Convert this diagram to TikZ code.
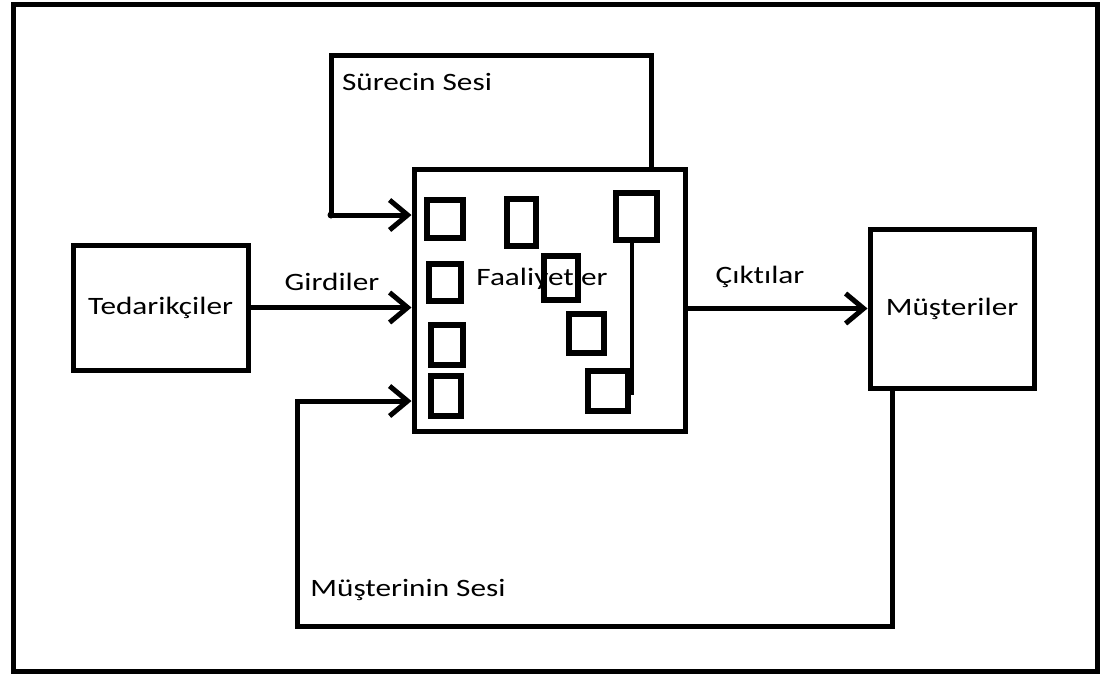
\documentclass[tikz,border=0pt]{standalone}
\usepackage{fontspec}
\setmainfont[FakeStretch=1.25, Ligatures=NoCommon]{Carlito}
\usetikzlibrary{arrows.meta}

\begin{document}
\begin{tikzpicture}[x=1pt, y=-1pt, line width=5pt,
        every node/.style={font=\fontsize{25}{29}\selectfont, inner sep=0pt},
        kutu/.style={draw, line width=5pt},
        kare/.style={draw, line width=5.5pt},
        okbas/.style={-{Straight Barb[length=18pt,width=30pt]}}]
        \useasboundingbox (0,0) rectangle (1101,675);
        % outer frame
        \draw (13,4) rectangle (1097,671);

        % main boxes
        \node[kutu, minimum width=175pt, minimum height=125pt] (tedarik) at (160.5,307.5) {Tedarik\c{c}iler};
        \node[kutu, minimum width=271pt, minimum height=262pt] (faal) at (549.5,300) {};
        \node[kutu, minimum width=164pt, minimum height=159pt] (musteri) at (952,308.5) {M\"u\c{s}teriler};
        \node (faaltxt) at (542,279) {Faaliyetler};

        % small activity boxes
        \foreach \i/\x/\y/\w/\h in {1/445/219/36/38, 2/521.5/222.5/29/47, 3/636.5/216.5/41/47,
                4/445/282.5/32/37, 5/561/278/34/44, 6/586.5/333.5/35/39,
                7/447/345/32/40, 8/446/396/30/40, 9/608/391/40/40}
            \node[kare, minimum width=\w pt, minimum height=\h pt] (k\i) at (\x,\y) {};
        \coordinate (kalt) at (632,395);
        \draw[line width=4pt] (k3.south -| kalt) -- (kalt);

        % labels
        \node (girdi) at (332,282) {Girdiler};
        \node (cikti) at (760,277) {\c{C}\i kt\i lar};
        \node (ssesi) at (417,82) {S\"urecin Sesi};
        \node (msesi) at (408,590) {M\"u\c{s}terinin Sesi};

        % loop corners
        \coordinate (s1) at (651,55);
        \coordinate (s2) at (331,55);
        \coordinate (s3) at (331,215);
        \coordinate (m1) at (892,626);
        \coordinate (m2) at (297,626);
        \coordinate (m3) at (297,401);

        \draw[okbas] (tedarik.east) -- (tedarik.east -| faal.west);
        \draw[okbas] (faal.east |- musteri.west) -- (musteri.west);
        \draw[okbas] (faal.north -| s1) -- (s1) -- (s2) -- (s3) -- (s3 -| faal.west);
        \fill (s3) circle (3.5pt);
        \draw[okbas] (musteri.south -| m1) -- (m1) -- (m2) -- (m3) -- (m3 -| faal.west);
    \end{tikzpicture}
\end{document}
